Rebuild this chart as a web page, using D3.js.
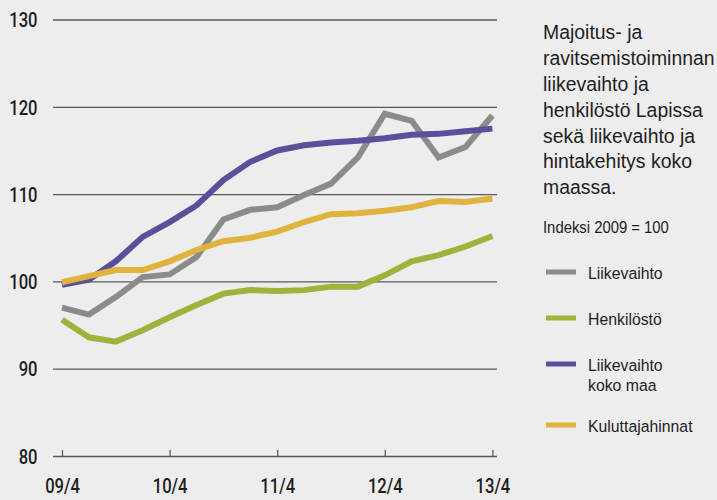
<!DOCTYPE html>
<html>
<head>
<meta charset="utf-8">
<script src="https://cdn.jsdelivr.net/npm/d3@7"></script>
<style>
  html, body { margin: 0; padding: 0; background: #ededed; }
  svg { display: block; background: #ededed; }
  text { font-family: "Liberation Sans", Arial, sans-serif; fill: #1e1e1e; }
  .akseli text { font-family: Roboto, "Liberation Sans", sans-serif; font-weight: 500; }
</style>
</head>
<body>
<svg width="717" height="500"></svg>
<script>
'use strict';

// neljännesvuodet 09/4 ... 13/4
var kvartaalit = d3.range(17);
var tickLabels = ["09/4", "10/4", "11/4", "12/4", "13/4"];
var yTicks = [80, 90, 100, 110, 120, 130];

var liikevaihto = [97.0, 96.2, 98.2, 100.5, 100.8, 102.8, 107.1, 108.2, 108.5, 109.9, 111.2, 114.2, 119.2, 118.4, 114.2, 115.4, 119.0];
var henkilosto = [95.6, 93.6, 93.1, 94.4, 95.9, 97.3, 98.6, 99.0, 98.9, 99.0, 99.4, 99.4, 100.7, 102.3, 103.0, 104.0, 105.2];
var liikevaihtoKokoMaa = [99.6, 100.2, 102.3, 105.1, 106.8, 108.7, 111.6, 113.7, 115.0, 115.6, 115.9, 116.1, 116.4, 116.8, 116.9, 117.2, 117.5];
var kuluttajahinnat = [99.9, 100.6, 101.3, 101.3, 102.3, 103.6, 104.6, 105.0, 105.7, 106.8, 107.7, 107.8, 108.1, 108.5, 109.2, 109.1, 109.5];

var sarjat = [
  { nimi: ["Liikevaihto"], arvot: liikevaihto, vari: "#8b8b8b", legY: 272 },
  { nimi: ["Henkilöstö"], arvot: henkilosto, vari: "#9cb43b", legY: 318 },
  { nimi: ["Liikevaihto", "koko maa"], arvot: liikevaihtoKokoMaa, vari: "#58509b", legY: 364 },
  { nimi: ["Kuluttajahinnat"], arvot: kuluttajahinnat, vari: "#e0b33f", legY: 425 }
];

var kapea = 0.83; // tiivistetty kirjasin -> vaakaskaalaus

var svg = d3.select("svg");

var x = d3.scaleLinear().domain([0, 16]).range([62, 492.4]);
var y = d3.scaleLinear().domain([80, 130]).range([456, 19.5]);

var gridLeft = 53, gridRight = 497;

// y-akseli + vaakaviivat
var yAxis = svg.append("g")
  .attr("class", "akseli")
  .attr("transform", "translate(" + gridLeft + ",0)")
  .call(d3.axisLeft(y).tickValues(yTicks).tickSize(-(gridRight - gridLeft)).tickPadding(15));
yAxis.select(".domain").remove();
yAxis.selectAll(".tick line").attr("stroke", "#5a5a5a").attr("stroke-width", 1.3);
yAxis.selectAll(".tick text")
  .attr("font-size", 20)
  .attr("fill", "#1e1e1e")
  .attr("x", -15.5 / kapea)
  .attr("transform", "scale(" + kapea + ",1)")
  .attr("dy", "0.36em");

// x-akseli: pienet tikit ylöspäin
var xAxis = svg.append("g")
  .attr("class", "akseli")
  .attr("transform", "translate(0," + y(80) + ")")
  .call(d3.axisBottom(x).tickValues([0, 4, 8, 12, 16])
    .tickFormat(function (d, i) { return tickLabels[i]; })
    .tickSize(-6).tickPadding(0));
xAxis.select(".domain").remove();
xAxis.selectAll(".tick line").attr("stroke", "#5a5a5a").attr("stroke-width", 1.3);
xAxis.selectAll(".tick text")
  .attr("font-size", 20)
  .attr("fill", "#1e1e1e")
  .attr("transform", "scale(" + kapea + ",1)")
  .attr("y", 37.5)
  .attr("dy", 0);

// viivat
var line = d3.line()
  .x(function (d, i) { return x(kvartaalit[i]); })
  .y(function (d) { return y(d); });

svg.append("g").selectAll("path")
  .data(sarjat)
  .enter().append("path")
  .attr("d", function (s) { return line(s.arvot); })
  .attr("fill", "none")
  .attr("stroke", function (s) { return s.vari; })
  .attr("stroke-width", 6)
  .attr("stroke-linejoin", "miter");

// otsikko
var otsikko = ["Majoitus- ja", "ravitsemistoiminnan", "liikevaihto ja", "henkilöstö Lapissa",
  "sekä liikevaihto ja", "hintakehitys koko", "maassa."];
svg.append("g")
  .attr("transform", "translate(543,0) scale(0.925,1)")
  .append("text")
  .attr("font-size", 21)
  .selectAll("tspan")
  .data(otsikko)
  .enter().append("tspan")
  .attr("x", 0)
  .attr("y", function (d, i) { return 39 + i * 25.9; })
  .text(function (d) { return d; });

svg.append("g")
  .attr("transform", "translate(543,0) scale(0.9,1)")
  .append("text")
  .attr("y", 233)
  .attr("font-size", 16.5)
  .text("Indeksi 2009 = 100");

// selite
var leg = svg.append("g").selectAll("g")
  .data(sarjat)
  .enter().append("g");

leg.append("rect")
  .attr("x", 546)
  .attr("y", function (s) { return s.legY - 2.5; })
  .attr("width", 30)
  .attr("height", 5)
  .attr("fill", function (s) { return s.vari; });

leg.append("g")
  .attr("transform", "translate(588,0) scale(0.93,1)")
  .append("text")
  .attr("font-size", 17)
  .selectAll("tspan")
  .data(function (s) { return s.nimi.map(function (n, i) { return { n: n, y: s.legY + 7 + i * 20 }; }); })
  .enter().append("tspan")
  .attr("x", 0)
  .attr("y", function (d) { return d.y; })
  .text(function (d) { return d.n; });
</script>
</body>
</html>
